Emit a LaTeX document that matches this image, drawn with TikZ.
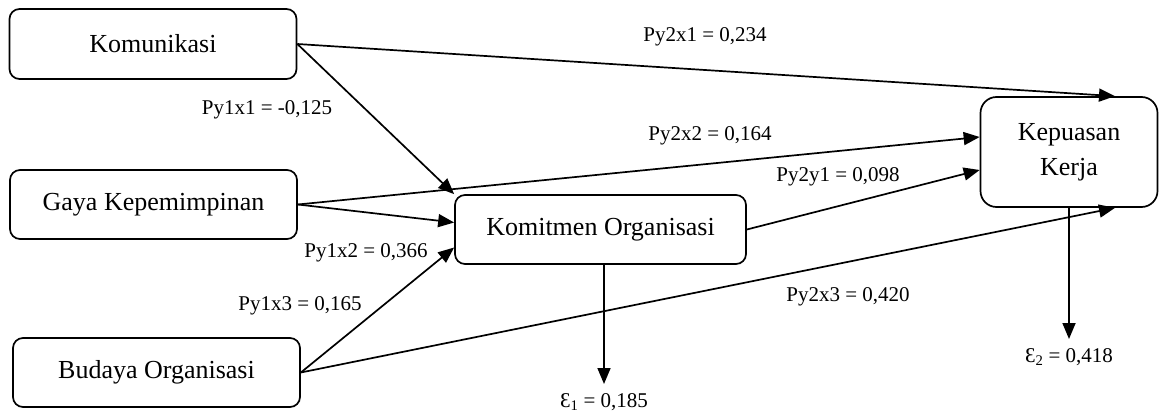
\documentclass[tikz,border=0pt]{standalone}
\usepackage{fontspec}
\setmainfont{Liberation Serif}
\usetikzlibrary{arrows.meta}

\begin{document}
\begin{tikzpicture}[
  x=1pt, y=-1pt,
  every path/.append style={line width=1.7pt},
  box/.style={draw, rounded corners=10pt, align=center, inner sep=0pt,
    font=\fontsize{26}{31}\selectfont},
  coef/.style={font=\fontsize{21}{25}\selectfont, inner sep=1pt},
  path/.style={-{Triangle[length=16pt,width=13pt]}}
  ]
  \useasboundingbox (0,0) rectangle (1161,412);

  \node [box, minimum width=287pt, minimum height=70pt] (kom) at (153,44) {Komunikasi};
  \node [box, minimum width=287pt, minimum height=69pt] (gaya) at (153.5,204.5) {Gaya Kepemimpinan};
  \node [box, minimum width=287pt, minimum height=69pt] (budaya) at (156.5,372.5) {Budaya Organisasi};
  \node [box, minimum width=291pt, minimum height=69pt] (komit) at (600.5,229.5) {Komitmen Organisasi};
  \node [box, rounded corners=16pt, minimum width=177pt, minimum height=110pt] (puas) at (1069,152)
    {Kepuasan\\[4pt]Kerja};

  \coordinate (e1) at (604,384);
  \coordinate (e2) at (1069,339);

  \draw [path] (kom.east) -- ([xshift=46pt]puas.north);
  \draw [path] (kom.east) -- (komit.north west);
  \draw [path] (gaya.east) -- ([yshift=15pt]puas.west);
  \draw [path] (gaya.east) -- ([yshift=7pt]komit.west);
  \draw [path] (budaya.east) -- ([yshift=-18pt]komit.west);
  \draw [path] (budaya.east) -- ([xshift=46pt]puas.south);
  \draw [path] (komit.east) -- ([yshift=-18pt]puas.west);
  \draw [path] ([xshift=3.5pt]komit.south) -- (e1);
  \draw [path] (puas.south) -- (e2);

  \node [coef] (py2x1) at (705,37) {Py2x1 = 0,234};
  \node [coef] (py1x1) at (267,110) {Py1x1 = -0,125};
  \node [coef] (py2x2) at (710,136) {Py2x2 = 0,164};
  \node [coef] (py2y1) at (838,177) {Py2y1 = 0,098};
  \node [coef] (py1x2) at (366,253) {Py1x2 = 0,366};
  \node [coef] (py1x3) at (300,306) {Py1x3 = 0,165};
  \node [coef] (py2x3) at (848,297) {Py2x3 = 0,420};
  \node [coef] (eps1) at (604,402) {Ɛ\textsubscript{1} = 0,185};
  \node [coef] (eps2) at (1069,357) {Ɛ\textsubscript{2} = 0,418};
\end{tikzpicture}
\end{document}
